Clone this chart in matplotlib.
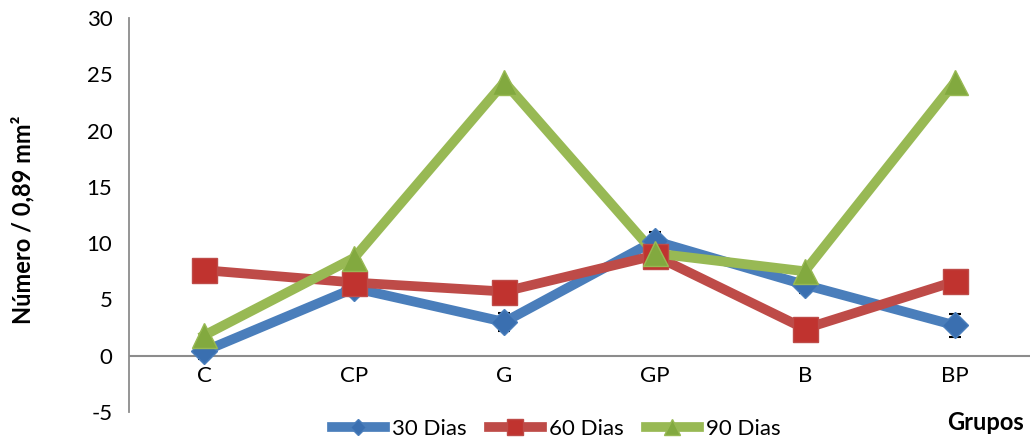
import matplotlib
matplotlib.use('Agg')
import matplotlib.pyplot as plt
from matplotlib.lines import Line2D

plt.rcParams['font.family'] = ['Lato', 'DejaVu Sans']
plt.rcParams['axes.unicode_minus'] = False

grupos = ['C', 'CP', 'G', 'GP', 'B', 'BP']
dias_30 = [0.4, 6.0, 3.0, 10.2, 6.3, 2.7]
erro_30 = [0.7, 0.7, 0.8, 0.8, 0.7, 1.0]
dias_60 = [7.6, 6.5, 5.7, 8.9, 2.4, 6.6]
dias_90 = [1.8, 8.7, 24.3, 9.1, 7.5, 24.3]

series = [
    ('30 Dias', dias_30, '#4A7EBB', '#3A6FB0', 'D', 13),
    ('60 Dias', dias_60, '#BE4B48', '#C0332F', 's', 18),
    ('90 Dias', dias_90, '#98B954', '#82A93F', '^', 18),
]

fig = plt.figure(figsize=(10.3, 4.41), dpi=100)
ax = fig.add_axes([129 / 1030, 1 - 412 / 441, 1 - 129 / 1030, (412 - 18) / 441])

x = list(range(len(grupos)))
ax.errorbar(x, dias_30, yerr=erro_30, fmt='none', ecolor='black',
            elinewidth=1.2, capsize=4, capthick=1.5, zorder=1)

handles = []
for nome, vals, cor, cor_m, mk, ms in series:
    ax.plot(x, vals, color=cor, lw=7, solid_joinstyle='miter', zorder=2)
    ax.plot(x, vals, ls='none', marker=mk, ms=ms, mfc=cor_m,
            mec=cor, mew=1, zorder=3)
    handles.append(Line2D([], [], color=cor, lw=7, marker=mk,
                          ms=ms * 0.65, mfc=cor_m, mec=cor, label=nome))

ax.set_xlim(-0.5, 5.5)
ax.set_ylim(-5, 30)
ax.set_yticks(range(-5, 31, 5))
ax.tick_params(axis='y', length=0, labelsize=16, pad=12)
ax.set_xticks([])

for s in ['top', 'right', 'bottom']:
    ax.spines[s].set_visible(False)
ax.spines['left'].set_color('#8C8C8C')
ax.spines['left'].set_linewidth(1.3)
ax.axhline(0, color='#8C8C8C', lw=1.5, zorder=0)

for xi, g in zip(x, grupos):
    ax.text(xi, -1.8, g, ha='center', va='center', fontsize=16)

fig.text(23 / 1030, 1 - 220 / 441, 'Número / 0,89 mm²', rotation=90,
         ha='center', va='center', fontsize=17, fontweight='bold')
fig.text(986 / 1030, 1 - 423 / 441, 'Grupos', ha='center', va='center',
         fontsize=17, fontweight='bold')

fig.legend(handles=handles, loc='center', bbox_to_anchor=(556 / 1030, 1 - 429 / 441),
           ncol=3, frameon=False, fontsize=16, handlelength=2.4,
           handletextpad=0.3, columnspacing=1.0, borderpad=0)

fig.savefig('out.png', dpi=100)
